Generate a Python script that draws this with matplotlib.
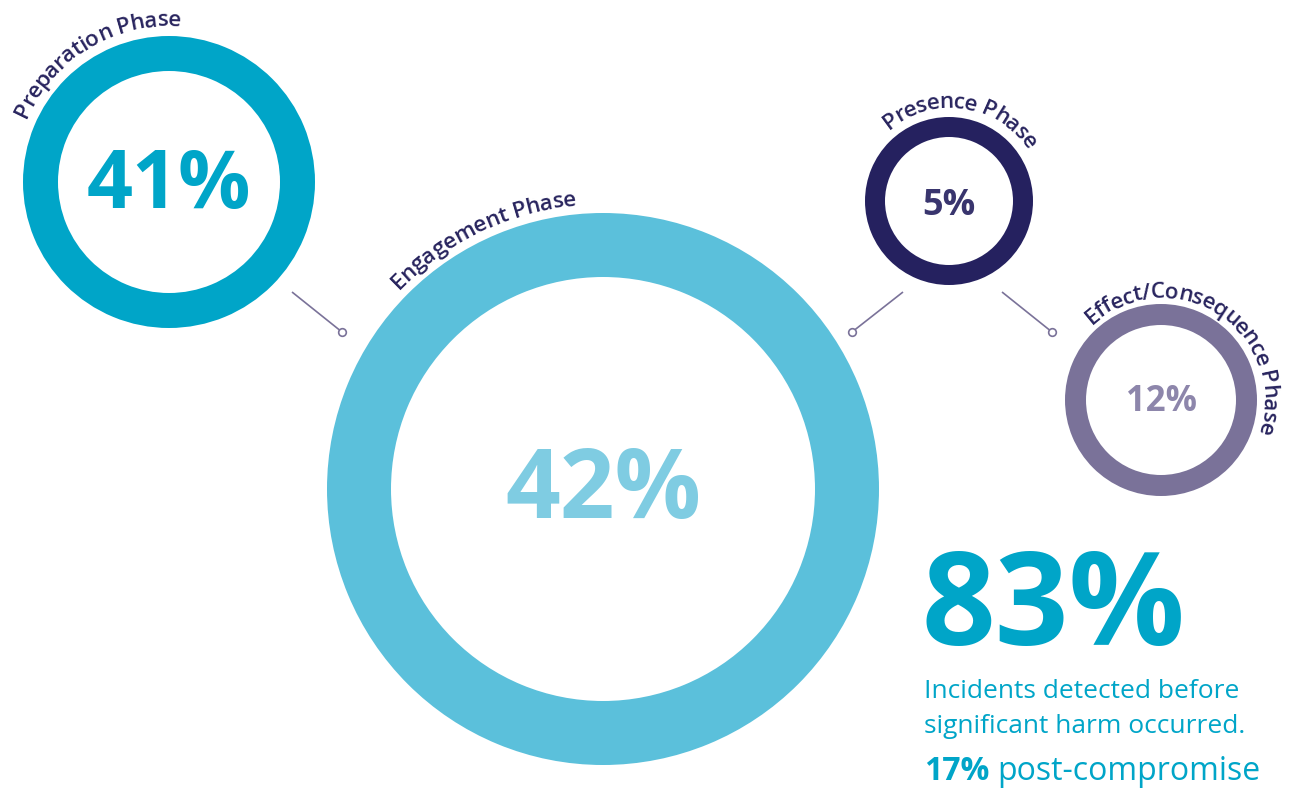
import matplotlib
matplotlib.use("Agg")
import matplotlib.pyplot as plt
from matplotlib.patches import Wedge
from matplotlib.font_manager import FontProperties, findfont, get_font
import numpy as np

# ---------------- data ----------------
phases = ["Preparation Phase", "Engagement Phase", "Presence Phase", "Effect/Consequence Phase"]
shares = [41, 42, 5, 12]
headline_share = 83
post_share = 17
caption_lines = ["Incidents detected before", "significant harm occurred."]
post_label = "post-compromise"

# ---------------- layout / style ----------------
W, H = 1293, 789
centers = [(169, 182), (603, 489), (949, 201), (1161, 400)]
outer_r = [146, 276, 84, 96]
ring_w = [35, 64, 20, 21]
ring_colors = ["#00A5C8", "#5BC0DB", "#25215F", "#7A7299"]
num_colors = ["#00A5C8", "#7FCCE2", "#39356E", "#8D86AB"]
num_sizes = [58, 69, 26, 25]
num_baseline = [208, 518, 215, 411]
label_mid = [121, 115.5, 81.5, 57]
label_gap = [10, 9, 9, 6]
label_color = "#28245E"
line_color = "#7A7299"
connectors = [((292, 292), (342, 332)), ((903, 292), (852, 332)), ((1002, 292), (1052, 332))]
accent = "#00A5C8"
FAM = ["Open Sans", "DejaVu Sans"]

fig = plt.figure(figsize=(W / 100, H / 100), dpi=100)
ax = fig.add_axes([0, 0, 1, 1])
ax.set_xlim(0, W)
ax.set_ylim(H, 0)
ax.set_aspect("equal")
ax.axis("off")


def advances(text, fp):
    font = get_font(findfont(fp))
    font.set_size(fp.get_size_in_points(), 100)
    out = []
    for ch in text:
        g = font.load_char(ord(ch))
        out.append(g.linearHoriAdvance / 65536.0)
    return out


def curved_text(text, cx, cy, r, mid_deg, fp, color):
    adv = advances(text, fp)
    total = sum(adv)
    fpx = fp.get_size_in_points() * 100 / 72
    rr = r + 0.3 * fpx
    th0 = np.radians(mid_deg) + total / (2 * rr)
    cum = 0.0
    for ch, a in zip(text, adv):
        th = th0 - (cum + a / 2) / rr
        x = cx + r * np.cos(th)
        y = cy - r * np.sin(th)
        ax.text(x, y, ch, fontproperties=fp, color=color,
                rotation=np.degrees(th) - 90, rotation_mode="anchor",
                ha="center", va="baseline")
        cum += a


# rings
for (cx, cy), r, w, c in zip(centers, outer_r, ring_w, ring_colors):
    ax.add_patch(Wedge((cx, cy), r, 0, 360, width=w, facecolor=c, edgecolor="none"))

# numbers in rings
for (cx, cy), v, c, s, b in zip(centers, shares, num_colors, num_sizes, num_baseline):
    ax.text(cx, b, f"{v}%", color=c, fontsize=s, fontweight="bold", family=FAM,
            ha="center", va="baseline")

# curved labels
lab_fp = FontProperties(family="Open Sans", weight="semibold", size=16.2)
for name, (cx, cy), r, g, m in zip(phases, centers, outer_r, label_gap, label_mid):
    curved_text(name, cx, cy, r + g, m, lab_fp, label_color)

# connectors
for (x0, y0), (x1, y1) in connectors:
    ax.plot([x0, x1], [y0, y1], color=line_color, lw=1.2, solid_capstyle="butt")
    ax.plot([x1], [y1], "o", ms=5.5, mfc="white", mec=line_color, mew=1.2)

# headline
ax.text(922, 645, f"{headline_share}%", color=accent, fontsize=93, fontweight="bold",
        family=FAM, ha="left", va="baseline")
ax.text(924, 698, caption_lines[0], color=accent, fontsize=19, family=FAM,
        ha="left", va="baseline")
ax.text(924, 733, caption_lines[1], color=accent, fontsize=19, family=FAM,
        ha="left", va="baseline")
t = ax.text(924, 780, f"{post_share}%", color=accent, fontsize=23, fontweight="bold",
            family=FAM, ha="left", va="baseline")
fig.canvas.draw()
bb = t.get_window_extent()
x_end = ax.transData.inverted().transform((bb.x1, bb.y0))[0]
ax.text(x_end + 8, 780, post_label, color=accent, fontsize=23, family=FAM,
        ha="left", va="baseline")

fig.savefig("out.png", dpi=100)
